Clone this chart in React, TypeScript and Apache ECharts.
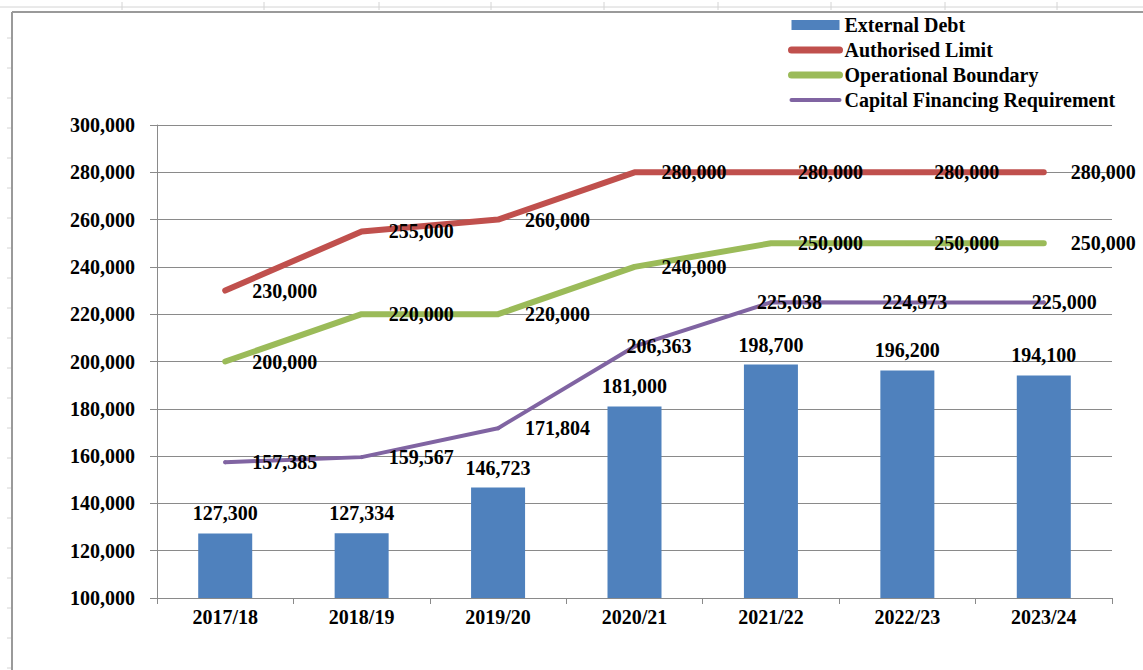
import React, { useEffect, useRef } from "react";
import * as echarts from "echarts";

const categories = ["2017/18", "2018/19", "2019/20", "2020/21", "2021/22", "2022/23", "2023/24"];
const externalDebt = [127300, 127334, 146723, 181000, 198700, 196200, 194100];
const authorisedLimit = [230000, 255000, 260000, 280000, 280000, 280000, 280000];
const operationalBoundary = [200000, 220000, 220000, 240000, 250000, 250000, 250000];
const capitalFinancing = [157385, 159567, 171804, 206363, 225038, 224973, 225000];
const cfrLabelShift = [0, 0, 0, -35, -41, -52, -39];

const FONT = "'Liberation Serif', 'Times New Roman', serif";
const fmt = (v: number) => v.toLocaleString("en-US");

export default function App() {
  const ref = useRef<HTMLDivElement>(null);
  useEffect(() => {
    if (!ref.current) return;
    const chart = echarts.init(ref.current, undefined, { renderer: "svg" });
    const lbl = { fontFamily: FONT, fontWeight: "bold" as const, fontSize: 20, color: "#000" };
    const topTicks = [122, 264, 379, 491, 604, 718, 831, 945, 1057];
    const rowTicks: number[] = [];
    for (let y = 38; y < 670; y += 30) rowTicks.push(y);
    const light = { stroke: "#d4d4d4", lineWidth: 1 };
    const graphic: any[] = [
      { type: "line", shape: { x1: 0, y1: 7, x2: 1143, y2: 7 }, style: light, silent: true },
      ...topTicks.map((x) => ({ type: "line", shape: { x1: x, y1: 2, x2: x, y2: 10 }, style: light, silent: true })),
      ...rowTicks.map((y) => ({ type: "line", shape: { x1: 7, y1: y, x2: 12, y2: y }, style: light, silent: true })),
      { type: "line", shape: { x1: 12, y1: 12, x2: 1143, y2: 12 }, style: { stroke: "#9a9a9a", lineWidth: 2 }, silent: true },
      { type: "line", shape: { x1: 12, y1: 12, x2: 12, y2: 670 }, style: { stroke: "#9a9a9a", lineWidth: 2 }, silent: true },
    ];
    const lineSeries = (name: string, data: number[], color: string, width: number, shifts?: number[]) => ({
      name,
      type: "line",
      data: data.map((v, i) => ({
        value: v,
        label: shifts && shifts[i] ? { offset: [shifts[i], 0] } : undefined,
      })),
      symbol: "circle",
      symbolSize: 4,
      showSymbol: true,
      itemStyle: { color },
      lineStyle: { color, width, cap: "round", join: "round" },
      label: { show: true, position: "right", distance: 25, formatter: (p: any) => fmt(p.value), ...lbl },
      z: 3,
    });
    const legendLine = (name: string, width: number) => ({
      name,
      itemStyle: { opacity: 0 },
      lineStyle: { width, cap: "round" },
    });
    chart.setOption({
      animation: false,
      backgroundColor: "#fff",
      graphic,
      legend: {
        orient: "vertical",
        left: 788,
        top: 15,
        padding: 0,
        itemWidth: 48,
        itemHeight: 10,
        itemGap: 5,
        textStyle: { fontFamily: FONT, fontWeight: "bold", fontSize: 20, color: "#000", lineHeight: 20 },
        data: [
          { name: "External Debt", icon: "rect" },
          legendLine("Authorised Limit", 7),
          legendLine("Operational Boundary", 7),
          legendLine("Capital Financing Requirement", 4),
        ],
      },
      grid: { left: 157, right: 31, top: 125, bottom: 72 },
      xAxis: {
        type: "category",
        data: categories,
        axisLine: { lineStyle: { color: "#8a8a8a", width: 1 } },
        axisTick: { show: true, length: 6, lineStyle: { color: "#8a8a8a" } },
        axisLabel: { margin: 9, ...lbl },
      },
      yAxis: {
        type: "value",
        min: 100000,
        max: 300000,
        interval: 20000,
        axisLine: { show: true, lineStyle: { color: "#8a8a8a", width: 1 } },
        axisTick: { show: true, length: 7, lineStyle: { color: "#8a8a8a" } },
        splitLine: { lineStyle: { color: "#8a8a8a", width: 1 } },
        axisLabel: { margin: 22, formatter: (v: number) => fmt(v), ...lbl },
      },
      series: [
        {
          name: "External Debt",
          type: "bar",
          data: externalDebt,
          barWidth: 54,
          itemStyle: { color: "#4F81BD" },
          label: { show: true, position: "top", distance: 10, formatter: (p: any) => fmt(p.value), ...lbl },
          z: 2,
        },
        lineSeries("Authorised Limit", authorisedLimit, "#C0504D", 6),
        lineSeries("Operational Boundary", operationalBoundary, "#9BBB59", 6),
        lineSeries("Capital Financing Requirement", capitalFinancing, "#8064A2", 4, cfrLabelShift),
      ],
    });
    return () => chart.dispose();
  }, []);
  return <div ref={ref} style={{ position: "fixed", left: 0, top: 0, width: 1143, height: 670 }} />;
}
